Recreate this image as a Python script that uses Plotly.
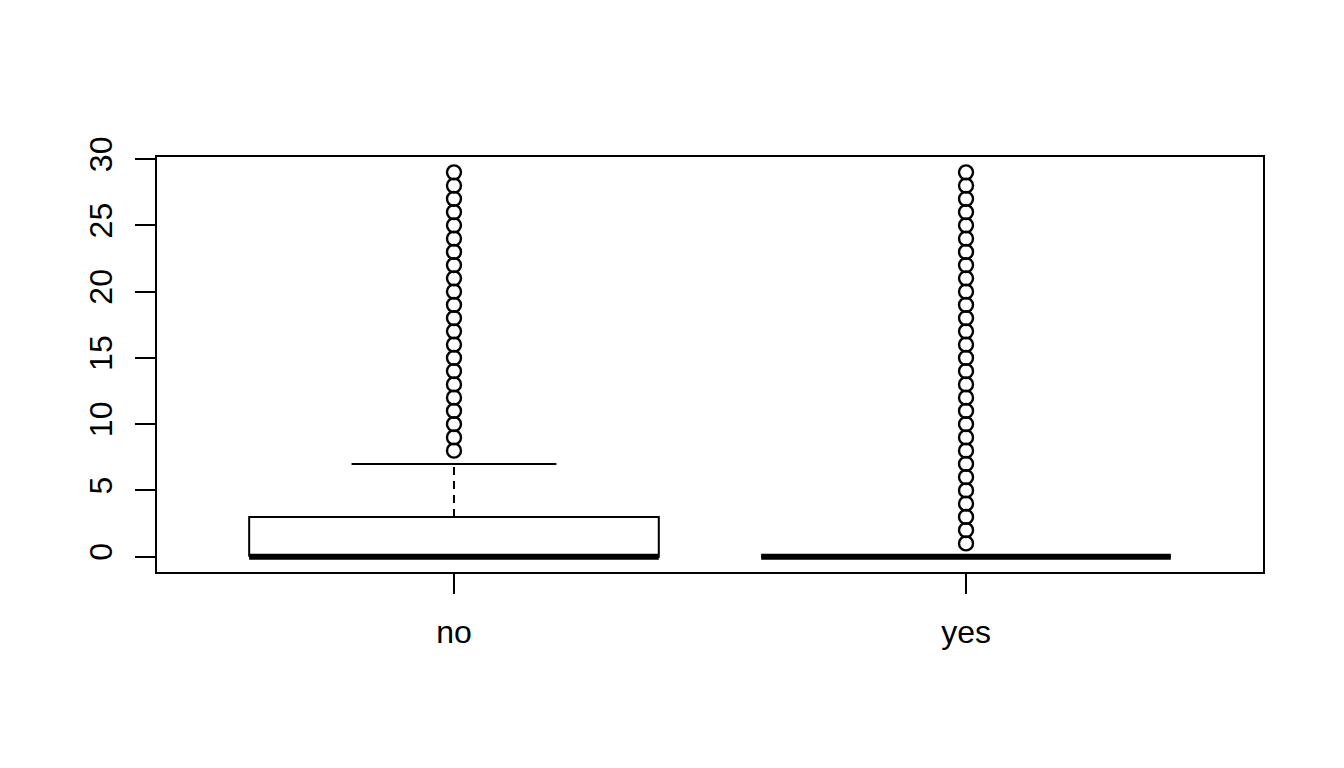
import plotly.graph_objects as go

# ---- data ----
categories = ["no", "yes"]
positions = [1, 2]
q1 = [0, 0]
median = [0, 0]
q3 = [3, 0]
lower_whisker = [0, 0]
upper_whisker = [7, 0]
outliers_no = [8, 9, 10, 11, 12, 13, 14, 15, 16, 17, 18, 19, 20, 21, 22, 23, 24, 25,
               26, 27, 28, 29]
outliers_yes = [1, 2, 3, 4, 5, 6, 7, 8, 9, 10, 11, 12, 13, 14, 15, 16, 17, 18, 19, 20,
                21, 22, 23, 24, 25, 26, 27, 28, 29]
y_tick_vals = [0, 5, 10, 15, 20, 25, 30]

BOX_HALF = 0.4
CAP_HALF = 0.2
FONT = "Liberation Sans, Arial, Helvetica, sans-serif"

fig = go.Figure()
outliers = [outliers_no, outliers_yes]

for i, x in enumerate(positions):
    # dashed whiskers (upper and lower)
    if upper_whisker[i] > q3[i]:
        fig.add_trace(go.Scatter(x=[x, x], y=[q3[i], upper_whisker[i]], mode="lines",
                                 line=dict(color="black", width=2, dash="8px,6px"),
                                 hoverinfo="skip", showlegend=False))
    if lower_whisker[i] < q1[i]:
        fig.add_trace(go.Scatter(x=[x, x], y=[lower_whisker[i], q1[i]], mode="lines",
                                 line=dict(color="black", width=2, dash="8px,6px"),
                                 hoverinfo="skip", showlegend=False))
    # whisker caps
    for w in (upper_whisker[i], lower_whisker[i]):
        fig.add_trace(go.Scatter(x=[x - CAP_HALF, x + CAP_HALF], y=[w, w], mode="lines",
                                 line=dict(color="black", width=2),
                                 hoverinfo="skip", showlegend=False))
    # box
    fig.add_trace(go.Scatter(
        x=[x - BOX_HALF, x + BOX_HALF, x + BOX_HALF, x - BOX_HALF, x - BOX_HALF],
        y=[q1[i], q1[i], q3[i], q3[i], q1[i]],
        mode="lines", fill="toself", fillcolor="white",
        line=dict(color="black", width=2), hoverinfo="skip", showlegend=False))
    # median
    fig.add_trace(go.Scatter(x=[x - BOX_HALF, x + BOX_HALF], y=[median[i], median[i]],
                             mode="lines", line=dict(color="black", width=6),
                             hoverinfo="skip", showlegend=False))
    # outliers
    fig.add_trace(go.Scatter(x=[x] * len(outliers[i]), y=outliers[i], mode="markers",
                             marker=dict(symbol="circle-open", size=14, color="black",
                                         line=dict(width=2.4, color="black")),
                             hoverinfo="skip", showlegend=False))

fig.update_layout(
    width=1344, height=768,
    margin=dict(l=157, r=81, t=157, b=196),
    paper_bgcolor="white", plot_bgcolor="white",
    font=dict(family=FONT, size=32, color="black"),
    xaxis=dict(range=[0.42, 2.58], tickvals=positions, ticktext=categories,
               showgrid=False, zeroline=False, showline=True, mirror=True,
               linecolor="black", linewidth=2, ticks="outside", ticklen=20,
               tickwidth=2, tickcolor="black", ticklabelstandoff=11),
    yaxis=dict(range=[-1.16, 30.16], tickvals=y_tick_vals,
               showgrid=False, zeroline=False, showline=True, mirror=True,
               linecolor="black", linewidth=2, ticks="outside", ticklen=20,
               tickwidth=2, tickcolor="black", tickangle=-90, ticklabelstandoff=10),
)

fig.write_html("out.html")
